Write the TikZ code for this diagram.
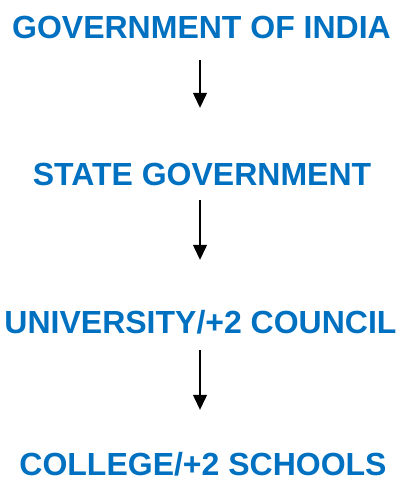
\documentclass[tikz,border=0pt]{standalone}
\usepackage{fontspec}
\setmainfont{Liberation Sans}
\usepackage{xcolor}
\usetikzlibrary{arrows.meta,positioning}

\definecolor{orgblue}{RGB}{0,112,192}

\begin{document}
\begin{tikzpicture}[
    x=1pt, y=1pt,
    level/.style={text=orgblue, font=\fontsize{32}{36}\selectfont\bfseries, inner sep=0pt, text height=23pt, text depth=0pt, anchor=base},
    flow/.style={-{Triangle[length=15pt, width=14pt]}, line width=1.2pt, black}
]

% Page frame
\useasboundingbox (0, 0) rectangle (401, -482);

% === Levels ===
\node[level] (gov) at (201.5, -38) {GOVERNMENT OF INDIA};
\node[level] (state) at (202, -185) {STATE GOVERNMENT};
\node[level] (univ) at (200.5, -333) {UNIVERSITY/+2 COUNCIL};
\node[level] (college) at (203, -475.5) {COLLEGE/+2 SCHOOLS};

% === Arrows between levels ===
\draw[flow, shorten <=22pt, shorten >=54pt] (gov.south -| 200, 0) -- (state.north -| 200, 0);
\draw[flow, shorten <=15pt, shorten >=50pt] (state.south -| 200, 0) -- (univ.north -| 200, 0);
\draw[flow, shorten <=17pt, shorten >=42.5pt] (univ.south -| 200, 0) -- (college.north -| 200, 0);

\end{tikzpicture}
\end{document}
